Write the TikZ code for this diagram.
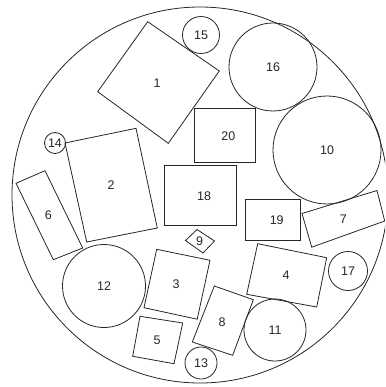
\documentclass[tikz,border=0pt]{standalone}
\usepackage{fontspec}
\setmainfont{Liberation Sans}
\tikzset{
	part/.style={draw=black!85, line width=0.8pt},
	lbl/.style={font=\fontsize{12.5}{14}\selectfont, text=black!85, inner sep=0pt}
}

\begin{document}
\begin{tikzpicture}[x=1pt, y=-1pt]
	\useasboundingbox (0,0) rectangle (385,387);
	\clip (0,0) rectangle (385,387);

	% --- Container ---
	\draw[part] (200,195) circle (188);

	% --- Circles ---
	\foreach \n/\x/\y/\r in {10/327/150/54, 11/275/330/31, 12/104/286/41.5,
		13/201/363/16, 14/55/143/10.5, 15/201/35/18.5, 16/273/67/44, 17/348/271/19.5}
	{
		\draw[part] (\x,\y) circle (\r);
		\node[lbl] (c\n) at (\x,\y) {\n};
	}

	% --- Rectangles ---
	% 1
	\draw[part] (147.7,21.7) -- (219.3,71) -- (168.3,143.3) -- (97.7,91.7) -- cycle;
	\node[lbl] (r1) at (157,83) {1};
	% 2
	\draw[part] (65,143) -- (136,128.3) -- (157.3,228) -- (86.7,242) -- cycle;
	\node[lbl] (r2) at (111,185) {2};
	% 3
	\draw[part] (156.7,249.3) -- (210,260.3) -- (197.2,319.2) -- (144,307.7) -- cycle;
	\node[lbl] (r3) at (176,284.5) {3};
	% 4
	\draw[part] (257.7,243.7) -- (326.7,257.7) -- (316.7,307) -- (246.7,294.3) -- cycle;
	\node[lbl] (r4) at (286,275.5) {4};
	% 5
	\draw[part] (140,316.3) -- (182.7,323) -- (174,363.7) -- (132.7,356.3) -- cycle;
	\node[lbl] (r5) at (157,340.5) {5};
	% 6
	\draw[part] (16,183.3) -- (45,170.7) -- (82.7,248) -- (53.3,259.7) -- cycle;
	\node[lbl] (r6) at (48.3,215.3) {6};
	% 7
	\draw[part] (302,213.5) -- (377,190.5) -- (384.7,221) -- (311.7,247.2) -- cycle;
	\node[lbl] (r7) at (343.3,218.7) {7};
	% 8
	\draw[part] (214.3,286) -- (253.3,299.7) -- (232.7,355.3) -- (192.3,342) -- cycle;
	\node[lbl] (r8) at (222,322) {8};
	% 9
	\draw[part] (185.5,240.5) -- (197,229.5) -- (214.5,241) -- (203,253) -- cycle;
	\node[lbl] (r9) at (199.5,241) {9};
	% 18, 19, 20 (axis aligned)
	\draw[part] (164,165) rectangle (236.7,225.7);
	\node[lbl] (r18) at (204,196) {18};
	\draw[part] (245.7,199.7) rectangle (300.7,240.3);
	\node[lbl] (r19) at (276.7,220.3) {19};
	\draw[part] (194.3,108.3) rectangle (255,162.7);
	\node[lbl] (r20) at (228.3,136) {20};
\end{tikzpicture}
\end{document}
